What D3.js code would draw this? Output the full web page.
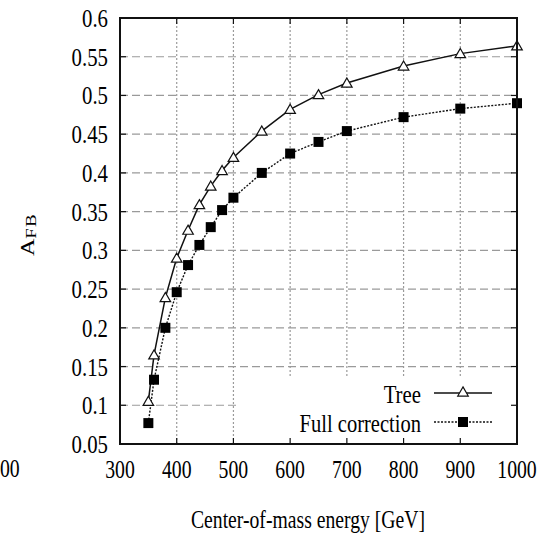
<!DOCTYPE html>
<html><head><meta charset="utf-8">
<script src="https://cdn.jsdelivr.net/npm/d3@7"></script>
<style>body{margin:0;background:#fff}svg{display:block}</style>
</head><body>
<svg id="c" width="538" height="538"></svg>
<script>
const energies = [350, 360, 380, 400, 420, 440, 460, 480, 500, 550, 600, 650, 700, 800, 900, 1000];
const treeValues = [0.105, 0.165, 0.239, 0.29, 0.326, 0.359, 0.383, 0.403, 0.42, 0.454, 0.482, 0.501, 0.516, 0.538, 0.554, 0.564];
const fullValues = [0.077, 0.133, 0.20, 0.246, 0.281, 0.307, 0.33, 0.352, 0.368, 0.40, 0.425, 0.44, 0.454, 0.472, 0.483, 0.49];
const xTicks = [300, 400, 500, 600, 700, 800, 900, 1000];
const yTicks = [0.05, 0.1, 0.15, 0.2, 0.25, 0.3, 0.35, 0.4, 0.45, 0.5, 0.55, 0.6];
const seriesNames = ["Tree", "Full correction"];

const FONT = "'Liberation Serif', 'DejaVu Serif', serif";
const svg = d3.select("#c");
const L = 120, R = 517, T = 18, B = 444;
const x = d3.scaleLinear().domain([300, 1000]).range([L, R]);
const y = d3.scaleLinear().domain([0.05, 0.6]).range([B, T]);
const FS = 26;

function txt(g, s, px, py, anchor, sx) {
  return g.append("text").text(s)
    .attr("transform", `translate(${px},${py}) scale(${sx},1)`)
    .attr("text-anchor", anchor || "start")
    .attr("font-family", FONT)
    .attr("font-size", FS)
    .attr("fill", "#000");
}

// legend box region (opaque key)
const keyX0 = 237, keyY0 = 378;

// grid
const grid = svg.append("g");
yTicks.filter(v => v > 0.06 && v < 0.59).forEach(v => {
  const yy = y(v);
  const xEnd = yy > keyY0 ? keyX0 : R;
  grid.append("line").attr("x1", L).attr("x2", xEnd).attr("y1", yy).attr("y2", yy)
    .attr("stroke", "#9a9a9a").attr("stroke-width", 1.2).attr("stroke-dasharray", "8,4");
});
xTicks.filter(v => v > 300 && v < 1000).forEach(v => {
  const xx = x(v);
  const yEnd = xx > keyX0 ? keyY0 : B;
  grid.append("line").attr("x1", xx).attr("x2", xx).attr("y1", T).attr("y2", yEnd)
    .attr("stroke", "#9a9a9a").attr("stroke-width", 1.2).attr("stroke-dasharray", "2,2");
});

// ticks (inner, mirrored)
const tk = svg.append("g").attr("stroke", "#111").attr("stroke-width", 1.2);
yTicks.forEach(v => {
  tk.append("line").attr("x1", L).attr("x2", L + 6).attr("y1", y(v)).attr("y2", y(v));
  tk.append("line").attr("x1", R).attr("x2", R - 6).attr("y1", y(v)).attr("y2", y(v));
});
xTicks.forEach(v => {
  tk.append("line").attr("x1", x(v)).attr("x2", x(v)).attr("y1", B).attr("y2", B - 6);
  tk.append("line").attr("x1", x(v)).attr("x2", x(v)).attr("y1", T).attr("y2", T + 6);
});

// tick labels
const lab = svg.append("g");
yTicks.forEach(v => txt(lab, String(v), 108, y(v) + 9, "end", 0.8));
xTicks.forEach(v => txt(lab, String(v), x(v), 478, "middle", 0.76));

// axis titles
txt(lab, "Center-of-mass energy [GeV]", 308, 528, "middle", 0.757);
const yl = svg.append("text").attr("transform", "translate(34,256) rotate(-90) scale(1,0.8)")
  .attr("font-family", FONT).attr("font-size", 24).attr("fill", "#000");
yl.append("tspan").text("A");
yl.append("tspan").text("FB").attr("dy", 3).attr("font-size", 19).attr("letter-spacing", 1);
// remnant label from neighbouring panel
txt(lab, "00", 0, 477, "start", 0.76);

// series
const tree = energies.map((e, i) => [e, treeValues[i]]);
const full = energies.map((e, i) => [e, fullValues[i]]);
const line = d3.line().x(d => x(d[0])).y(d => y(d[1]));
svg.append("path").datum(full).attr("d", line).attr("fill", "none")
  .attr("stroke", "#111").attr("stroke-width", 1.4).attr("stroke-dasharray", "2,1.5");
svg.append("path").datum(tree).attr("d", line).attr("fill", "none")
  .attr("stroke", "#111").attr("stroke-width", 1.5);

const tri = d3.symbol().type(d3.symbolTriangle).size(48);
const sq = d3.symbol().type(d3.symbolSquare).size(100);
svg.append("g").selectAll("path").data(full).join("path")
  .attr("d", sq).attr("transform", d => `translate(${x(d[0])},${y(d[1])})`).attr("fill", "#000");
svg.append("g").selectAll("path").data(tree).join("path")
  .attr("d", tri).attr("transform", d => `translate(${x(d[0])},${y(d[1]) + 1})`)
  .attr("fill", "#fff").attr("stroke", "#111").attr("stroke-width", 1.2);

// legend
const lg = svg.append("g");
txt(lg, seriesNames[0], 421, 403, "end", 0.8);
lg.append("line").attr("x1", 434).attr("x2", 492).attr("y1", 393).attr("y2", 393)
  .attr("stroke", "#111").attr("stroke-width", 1.5);
lg.append("path").attr("d", tri).attr("transform", "translate(463,393)")
  .attr("fill", "#fff").attr("stroke", "#111").attr("stroke-width", 1.2);
txt(lg, seriesNames[1], 421, 432, "end", 0.79);
lg.append("line").attr("x1", 434).attr("x2", 492).attr("y1", 422).attr("y2", 422)
  .attr("stroke", "#111").attr("stroke-width", 1.4).attr("stroke-dasharray", "2,1.5");
lg.append("path").attr("d", sq).attr("transform", "translate(463,422)").attr("fill", "#000");

// frame
svg.append("rect").attr("x", L).attr("y", T).attr("width", R - L).attr("height", B - T)
  .attr("fill", "none").attr("stroke", "#111").attr("stroke-width", 2);
</script>
</body></html>
